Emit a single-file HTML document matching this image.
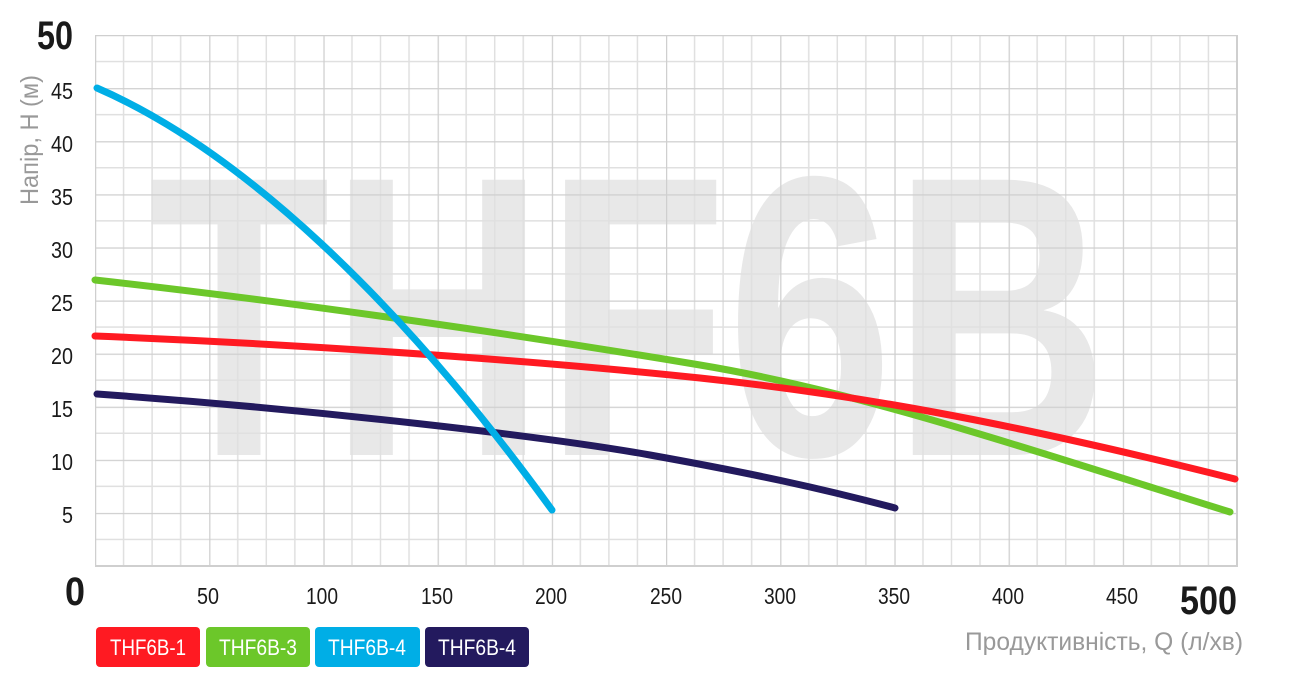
<!DOCTYPE html>
<html><head><meta charset="utf-8"><style>
body{margin:0;background:#fff}
svg text{font-family:"Liberation Sans",sans-serif}
</style></head><body>
<svg width="1292" height="673" viewBox="0 0 1292 673" xmlns="http://www.w3.org/2000/svg">
<defs>
<pattern id="gp" x="95" y="35" width="114.2" height="53.1" patternUnits="userSpaceOnUse">
<line x1="28.55" y1="0" x2="28.55" y2="53.1" stroke="#e0e0e0" stroke-width="1.5"/>
<line x1="57.1" y1="0" x2="57.1" y2="53.1" stroke="#e0e0e0" stroke-width="1.5"/>
<line x1="85.65" y1="0" x2="85.65" y2="53.1" stroke="#e0e0e0" stroke-width="1.5"/>
<line x1="0" y1="26.55" x2="114.2" y2="26.55" stroke="#e0e0e0" stroke-width="1.5"/>
<line x1="0" y1="0" x2="114.2" y2="0" stroke="#cfcfcf" stroke-width="2.5"/>
<line x1="0" y1="0" x2="0" y2="53.1" stroke="#cfcfcf" stroke-width="2.5"/>
</pattern>
</defs>
<text x="628" y="455" font-size="400" font-weight="bold" fill="#e8e8e8" text-anchor="middle" textLength="960" lengthAdjust="spacingAndGlyphs">THF6B</text>
<rect x="95" y="35" width="1143" height="532" fill="url(#gp)"/>
<line x1="1237" y1="35" x2="1237" y2="567" stroke="#cfcfcf" stroke-width="2"/>
<line x1="95" y1="566" x2="1238" y2="566" stroke="#cfcfcf" stroke-width="2"/>
<g fill="none" stroke-width="7" stroke-linecap="round" stroke-linejoin="round">
<path stroke="#6cc72a" d="M95,280 C320,305 550,340 700,365 S1000,440 1230,512"/>
<path stroke="#ff1a22" d="M95,336 C320,345 550,362 700,378 S1000,420 1235,479"/>
<path stroke="#231a5e" d="M97,394 C320,410 550,437 650,455 S820,488 895,508"/>
<path stroke="#00aee6" d="M97,88 C240,150 400,300 552,510"/>
</g>
<g font-size="23" fill="#1a1a1a" text-anchor="end">
<text x="73" y="99" textLength="22" lengthAdjust="spacingAndGlyphs">45</text>
<text x="73" y="152" textLength="22" lengthAdjust="spacingAndGlyphs">40</text>
<text x="73" y="205" textLength="22" lengthAdjust="spacingAndGlyphs">35</text>
<text x="73" y="258" textLength="22" lengthAdjust="spacingAndGlyphs">30</text>
<text x="73" y="311" textLength="22" lengthAdjust="spacingAndGlyphs">25</text>
<text x="73" y="364" textLength="22" lengthAdjust="spacingAndGlyphs">20</text>
<text x="73" y="417" textLength="22" lengthAdjust="spacingAndGlyphs">15</text>
<text x="73" y="470" textLength="22" lengthAdjust="spacingAndGlyphs">10</text>
<text x="73" y="523" textLength="11" lengthAdjust="spacingAndGlyphs">5</text>
</g>
<g font-size="23" fill="#1a1a1a" text-anchor="middle">
<text x="208" y="604" textLength="22" lengthAdjust="spacingAndGlyphs">50</text>
<text x="322" y="604" textLength="32" lengthAdjust="spacingAndGlyphs">100</text>
<text x="437" y="604" textLength="32" lengthAdjust="spacingAndGlyphs">150</text>
<text x="551" y="604" textLength="32" lengthAdjust="spacingAndGlyphs">200</text>
<text x="666" y="604" textLength="32" lengthAdjust="spacingAndGlyphs">250</text>
<text x="780" y="604" textLength="32" lengthAdjust="spacingAndGlyphs">300</text>
<text x="894" y="604" textLength="32" lengthAdjust="spacingAndGlyphs">350</text>
<text x="1008" y="604" textLength="32" lengthAdjust="spacingAndGlyphs">400</text>
<text x="1122" y="604" textLength="32" lengthAdjust="spacingAndGlyphs">450</text>
</g>
<g font-size="40" font-weight="bold" fill="#1a1a1a">
<text x="37" y="49" textLength="36" lengthAdjust="spacingAndGlyphs">50</text>
<text x="65" y="605" textLength="20" lengthAdjust="spacingAndGlyphs">0</text>
<text x="1180" y="614" textLength="57" lengthAdjust="spacingAndGlyphs">500</text>
</g>
<text x="965" y="650" font-size="25" fill="#999" textLength="278" lengthAdjust="spacingAndGlyphs">Продуктивність, Q (л/хв)</text>
<text transform="translate(38,205) rotate(-90)" font-size="25" fill="#999" textLength="130" lengthAdjust="spacingAndGlyphs">Напір, Н (м)</text>
<g font-size="22" fill="#fff" text-anchor="middle">
<rect x="96" y="627" width="104" height="40" rx="4" fill="#ff1a22"/><text x="148" y="655" textLength="76" lengthAdjust="spacingAndGlyphs">THF6B-1</text>
<rect x="206" y="627" width="104" height="40" rx="4" fill="#6cc72a"/><text x="258" y="655" textLength="78" lengthAdjust="spacingAndGlyphs">THF6B-3</text>
<rect x="315" y="627" width="105" height="40" rx="4" fill="#00aee6"/><text x="367" y="655" textLength="78" lengthAdjust="spacingAndGlyphs">THF6B-4</text>
<rect x="425" y="627" width="104" height="40" rx="4" fill="#231a5e"/><text x="477" y="655" textLength="78" lengthAdjust="spacingAndGlyphs">THF6B-4</text>
</g>
</svg>
</body></html>
